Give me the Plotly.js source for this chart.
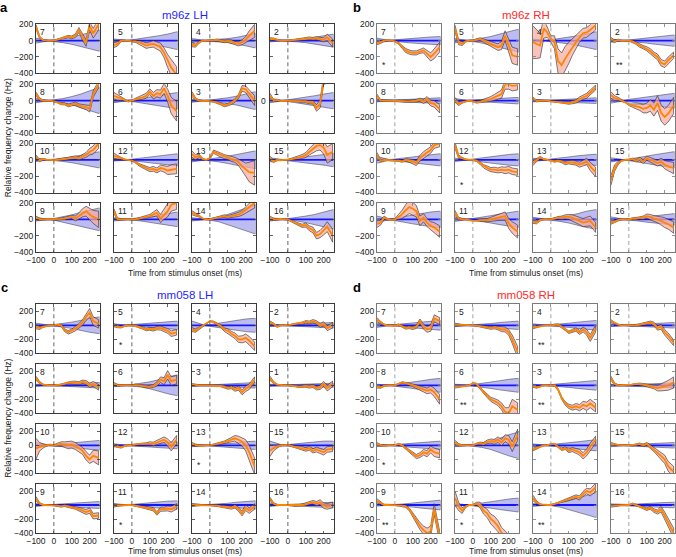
<!DOCTYPE html>
<html><head><meta charset="utf-8">
<script src="https://cdn.plot.ly/plotly-3.0.1.min.js"></script>
<style>html,body{margin:0;padding:0;background:#fff}#chart{width:676px;height:557px}</style>
</head><body><div id="chart"></div>
<script>
// time grid of the orange (real-data) traces, ms
const T = [-100,-80,-60,-40,-20,0,20,40,60,80,100,120,140,160,180,200,220,250];
// time grid of the blue (shuffled) band, ms
const TB = [-100,-60,-30,0,50,100,150,200,255];
const blueMean = [0,0,0,0,0,0,0,0,0];
const subplotNumbers = [7,5,4,2, 8,6,3,1, 10,12,13,15, 9,11,14,16];
const xTicks = [-100,0,100,200];
const yTicks = [-400,-200,0,200];
const panelTitles = ["m96z LH","m96z RH","mm058 LH","mm058 RH"];
const panelLetters = ["a","b","c","d"];

// ---- panel a (m96z LH) ----
const aMean = [
[170,40,5,0,0,0,10,25,40,50,40,60,130,40,-30,180,90,200],
[-55,-40,0,0,0,-10,-10,-20,-40,-60,-50,-40,-60,-80,-150,-250,-330,-420],
[-50,-60,-20,0,0,0,5,10,0,-10,-5,-10,-30,-40,-20,10,60,120],
[20,20,10,0,0,0,5,10,15,20,20,30,25,30,20,10,40,-30],
[80,20,0,0,0,-10,-20,-40,-40,-60,-50,-35,-60,-70,-80,-100,80,200],
[60,40,30,10,-10,0,20,30,40,60,110,60,90,80,150,60,-60,-130],
[80,20,0,-5,0,-5,-10,-20,-40,-60,-50,-30,0,50,150,140,80,0],
[60,0,10,-5,0,0,-5,0,-5,-10,-10,-20,-20,-90,-40,250,260,260],
[40,-10,10,0,0,-5,0,5,10,20,20,30,20,40,60,100,120,200],
[50,30,20,5,0,-10,-30,-60,-80,-100,-120,-110,-130,-100,-110,-130,-120,-110],
[70,30,50,10,0,20,100,80,60,40,30,10,0,-30,-80,-120,-150,-160],
[20,-20,0,-5,0,0,10,20,30,40,60,100,140,170,180,150,60,100],
[20,0,0,0,0,0,0,5,10,20,30,10,40,80,100,60,30,0],
[100,0,0,0,0,-5,0,10,20,30,40,60,80,10,60,100,180,200],
[80,60,40,10,0,0,10,20,30,40,30,40,50,60,80,120,150,200],
[20,0,0,5,0,-5,-20,-40,-60,-80,-70,-110,-130,-200,-180,-140,-90,-200]];
const aSpread = [
[25,15,8,4,3,4,8,10,12,15,18,22,30,35,40,50,60,70],
[30,25,12,5,3,5,10,20,30,35,35,40,45,50,60,80,100,100],
[25,20,10,5,3,4,8,10,12,15,15,18,20,25,30,40,60,80],
[15,12,8,4,3,4,6,8,10,12,12,15,15,18,20,25,40,50],
[25,15,8,4,3,4,8,10,12,15,15,18,20,25,30,40,40,40],
[40,35,25,10,4,4,10,20,25,30,35,40,45,50,60,80,100,120],
[30,15,8,4,3,4,8,10,12,15,15,18,20,25,35,40,50,60],
[30,15,8,4,3,4,8,10,12,15,15,18,20,40,50,50,50,50],
[20,15,8,4,3,4,8,10,12,15,15,18,20,25,30,40,50,60],
[30,20,10,5,3,5,10,15,20,25,25,30,30,35,40,50,60,60],
[40,30,20,8,4,8,20,25,25,25,25,30,30,40,60,80,120,150],
[25,15,8,4,3,4,10,15,20,25,30,40,50,60,60,80,100,100],
[20,15,8,4,3,4,8,10,12,15,20,30,40,50,60,70,80,100],
[30,15,8,4,3,4,8,10,12,15,20,30,40,50,60,70,80,80],
[25,20,12,5,3,4,8,10,12,15,15,18,20,25,30,40,50,60],
[20,12,8,4,3,4,8,10,15,20,25,30,35,40,45,50,60,80]];
const aBlue = [
[30,15,3,10,25,45,70,100,130],[20,10,3,10,25,40,60,80,110],[25,12,3,8,15,25,40,60,90],[15,8,3,6,15,25,40,60,80],
[25,12,3,10,25,50,80,120,160],[25,12,3,10,25,40,60,80,100],[20,10,3,8,20,35,55,80,110],[25,12,3,10,25,40,60,80,100],
[20,10,3,8,20,35,55,75,100],[15,8,3,8,20,35,50,60,75],[25,12,3,10,25,45,65,90,110],[25,12,3,8,20,35,50,65,85],
[20,10,3,10,30,55,85,110,140],[20,10,3,8,20,35,50,70,90],[20,10,3,10,30,60,100,140,180],[20,10,3,8,20,40,60,90,120]];
const aStars = ["","","","", "","","","", "","","","", "","","",""];

// ---- panel b (m96z RH) ----
const bMean = [
[-30,-20,0,10,0,-10,-30,-80,-120,-140,-150,-150,-130,-120,-160,-200,-160,-80],
[150,-20,-40,-10,0,0,10,20,0,-20,-40,-60,-80,-60,60,-60,-180,-200],
[-20,-40,-60,150,100,20,-20,-250,-300,-220,-150,-80,-20,40,90,100,130,190],
[20,-10,10,0,0,0,-10,-30,-60,-80,-100,-130,-170,-200,-270,-290,-240,-180],
[60,0,0,0,0,0,0,-5,-10,-10,-5,0,10,-10,20,-30,-40,-100],
[10,-40,-20,-10,0,-10,-20,-15,-5,10,20,40,60,80,200,200,180,190],
[30,-5,0,0,0,-10,-15,-20,-20,-25,-30,-20,-10,20,40,60,100,160],
[70,30,20,0,-20,-50,-60,-70,-80,-100,-90,-60,-110,-30,-150,-200,-160,-60],
[60,-10,0,0,-5,-10,-10,-20,0,-10,-20,-40,20,60,90,120,180,200],
[180,40,20,5,0,0,-10,-40,-80,-100,-120,-120,-130,-120,-130,-120,-140,-150],
[-40,0,30,10,0,-10,-20,-10,-20,-40,-30,-30,-40,-60,-40,-20,-80,-150],
[-250,-100,-40,-10,0,0,10,-10,10,-20,20,0,-20,-40,-20,-60,-80,-100],
[-60,-40,20,0,-10,0,30,60,110,150,130,100,-20,20,-40,-80,-100,-150],
[80,10,0,0,-10,-20,-20,-10,-10,-10,0,10,20,30,40,-50,-100,-150],
[-30,-40,-10,0,0,0,10,20,20,30,30,20,0,-20,-40,-30,-20,-100],
[-40,-30,-10,0,0,0,10,10,20,20,40,30,10,0,-20,-40,-60,-100]];
const bSpread = [
[20,15,8,4,3,6,12,20,25,25,25,25,25,30,40,50,60,60],
[40,30,20,8,4,6,12,15,20,25,30,35,40,50,60,80,100,100],
[200,180,150,120,60,40,80,150,150,150,130,100,80,60,60,60,60,60],
[20,15,8,4,3,5,10,15,20,20,25,30,30,35,40,40,40,40],
[20,12,8,4,3,4,8,10,12,12,15,15,20,25,30,35,40,50],
[30,20,12,5,3,5,10,15,20,25,30,35,40,50,60,60,60,60],
[15,10,6,4,3,4,6,8,10,12,15,18,20,25,25,30,30,30],
[40,30,20,10,5,10,20,30,40,50,60,70,80,90,100,100,100,100],
[30,15,8,4,3,4,8,10,15,20,25,30,35,40,40,40,40,40],
[40,20,10,5,3,4,8,15,20,25,25,30,30,35,40,40,40,40],
[30,20,12,5,3,4,8,12,15,20,20,25,25,30,35,40,50,60],
[60,40,20,8,4,5,10,15,20,25,25,30,30,35,40,50,60,70],
[40,30,20,10,5,10,30,50,70,80,80,70,60,50,50,50,60,70],
[30,15,8,4,3,4,8,12,15,20,25,30,35,40,50,60,70,80],
[20,15,10,5,3,5,10,15,20,25,30,35,40,45,50,55,60,60],
[20,15,10,5,3,4,8,12,15,20,25,30,35,40,50,60,60,70]];
const bBlue = [
[30,15,3,10,20,30,40,45,50],[25,12,3,10,30,50,80,110,140],[20,12,3,10,25,40,60,80,110],[20,10,3,8,20,30,45,60,70],
[15,8,3,6,12,18,25,30,35],[25,12,3,8,15,20,25,30,40],[15,8,3,6,12,18,25,30,35],[30,15,3,15,30,45,60,80,90],
[40,20,3,10,20,35,50,60,75],[20,10,3,10,25,40,55,65,75],[20,10,3,10,20,35,50,60,70],[25,12,3,10,25,45,65,85,100],
[40,20,3,15,35,55,75,90,100],[25,12,3,10,25,45,65,85,100],[25,12,3,10,25,45,70,100,120],[30,15,3,8,20,35,50,60,70]];
const bStars = ["*","","","**", "","","","", "","*","","", "","","",""];

// ---- panel c (mm058 LH) ----
const cMean = [
[-20,-40,-20,-10,0,0,10,0,-70,-100,-80,-50,-10,40,120,180,60,20],
[0,-20,-30,-10,0,0,-10,-20,-40,-60,-50,-60,-40,-40,-60,-80,-120,-100],
[-60,-80,-40,-10,20,60,50,20,-10,-60,-80,-120,-150,-200,-200,-180,-220,-300],
[40,20,-20,0,0,0,10,20,30,30,50,40,60,40,0,20,-40,0],
[100,40,10,0,0,0,0,10,20,40,40,40,30,50,40,0,20,-30],
[20,0,0,0,0,0,10,0,-10,-20,-20,-10,20,80,60,150,60,80],
[10,0,0,0,0,0,0,0,-10,-20,-40,-30,-60,-40,-100,-50,-20,80],
[100,40,10,0,0,0,-10,-10,-20,-20,-10,-20,-10,-40,-30,20,-40,20],
[-50,-20,-10,0,10,0,10,20,10,0,10,-10,-40,-80,-150,-200,-150,-180],
[0,-20,-30,-10,0,0,10,20,20,20,30,20,40,60,80,40,-20,80],
[20,0,0,-10,0,0,10,20,30,40,60,80,100,80,50,0,-100,-300],
[-80,-40,-20,0,0,10,-10,-20,-30,-40,-60,-40,-80,-60,-80,-100,-60,-50],
[90,20,0,0,0,0,-10,-20,-10,-20,-30,-40,-60,-80,-100,-80,-160,-150],
[-10,-5,-5,0,0,0,-10,-20,-30,-40,-50,-60,-120,-60,-60,-50,-60,-20],
[0,0,0,0,0,0,-10,-10,-20,-20,-30,-40,-20,-60,-120,-40,-80,-20],
[80,20,0,0,0,0,-5,-10,-10,0,10,30,40,20,40,-10,-20,0]];
const cSpread = [
[30,20,10,5,3,5,10,15,20,25,25,30,35,40,50,60,60,60],
[20,15,8,4,3,4,8,12,15,18,20,22,25,28,30,35,40,40],
[30,20,10,5,3,5,10,15,20,25,30,35,40,45,50,55,60,60],
[20,12,8,4,3,4,8,10,12,15,18,20,22,25,28,30,35,40],
[30,15,8,4,3,4,8,10,12,15,18,20,22,25,28,30,35,40],
[20,12,8,4,3,4,8,10,12,15,18,20,30,40,50,60,60,60],
[15,10,6,4,3,4,6,8,10,12,15,20,25,30,35,40,40,40],
[30,15,8,4,3,4,8,10,12,15,18,20,22,25,30,35,40,40],
[150,60,30,10,5,8,20,30,40,50,50,50,50,50,60,60,80,100],
[20,15,10,5,3,4,8,10,12,15,20,25,30,35,40,50,60,60],
[20,15,8,4,3,4,8,10,15,20,25,30,40,50,60,80,100,120],
[80,40,20,8,4,5,10,15,20,25,25,30,30,35,35,40,40,40],
[30,15,8,4,3,4,8,10,12,15,18,20,25,30,35,40,40,40],
[20,12,8,4,3,4,8,10,15,20,20,25,25,30,30,35,40,40],
[15,10,6,4,3,4,6,10,12,15,18,20,25,30,35,40,40,40],
[30,15,8,4,3,4,8,10,12,15,18,20,25,30,35,40,40,40]];
const cBlue = [
[30,15,3,10,25,45,70,100,120],[20,10,3,10,20,30,40,50,60],[60,30,3,10,30,50,70,90,100],[20,10,3,8,15,20,25,30,40],
[15,8,3,6,12,18,25,35,40],[20,10,3,10,25,50,80,120,150],[15,8,3,6,12,18,25,30,40],[15,8,3,6,12,18,22,28,30],
[40,20,3,10,20,35,50,60,70],[20,10,3,8,15,25,35,40,50],[20,10,3,8,15,25,35,50,60],[60,30,3,10,20,35,50,60,60],
[20,10,3,8,15,25,35,45,50],[20,10,3,8,20,35,45,55,60],[20,10,3,8,15,25,40,50,60],[20,10,3,8,15,25,30,35,40]];
const cStars = ["","*","","", "","","","", "","","*","", "","*","",""];

// ---- panel d (mm058 RH) ----
const dMean = [
[80,40,10,0,0,-10,10,-20,-40,-30,-40,-20,60,-20,-60,-40,100,60],
[10,10,0,0,0,0,-5,-10,-20,-30,-40,-30,-40,-60,-60,-100,-200,-380],
[-30,-20,-10,0,0,0,10,10,-20,-60,-100,-80,-60,-100,-60,-100,-180,-50],
[60,30,10,0,0,-5,-10,0,10,20,30,40,20,-40,-20,-100,-150,-250],
[-20,-30,-10,0,0,0,20,40,30,20,0,-20,-40,-60,-80,-60,-100,-200],
[-20,-20,-20,-10,0,30,20,-40,-100,-150,-200,-220,-250,-300,-380,-400,-300,-350],
[-10,-30,-20,0,0,-10,0,-60,-180,-260,-300,-320,-300,-320,-280,-300,-260,-320],
[100,20,0,0,0,0,10,20,20,10,0,-10,-20,-40,-30,-20,0,40],
[20,0,-10,0,0,0,20,0,-40,-80,-120,-160,-140,-100,-120,-60,-100,-120],
[40,10,0,0,0,0,20,30,20,50,60,50,80,40,100,80,-20,150],
[-60,-40,-20,0,0,20,20,-20,-60,-40,-80,-60,-80,-100,-150,-100,-20,80],
[20,10,0,0,0,0,0,10,20,0,20,-20,-60,-100,-150,-200,-300,-380],
[60,30,0,0,0,0,-5,-10,-20,-60,-140,-220,-300,-360,-400,-380,-60,-450],
[100,-20,-80,-20,0,0,20,0,-80,-120,-200,-240,-300,-400,-450,-500,-500,-500],
[100,40,10,0,0,0,10,30,50,70,80,100,120,100,160,200,180,250],
[-10,-10,-10,0,0,0,20,0,-20,-40,-60,-40,-80,-100,-60,-150,-250,-400]];
const dSpread = [
[30,15,8,4,3,4,8,12,15,18,20,25,30,35,40,45,50,50],
[20,12,8,4,3,4,8,10,12,15,18,20,25,30,35,40,60,80],
[20,12,8,4,3,4,8,10,12,15,18,20,25,30,35,40,50,50],
[20,12,8,4,3,4,8,10,12,15,18,20,25,30,35,40,40,40],
[20,12,8,4,3,4,8,10,12,15,18,25,30,35,40,50,60,70],
[20,12,8,4,3,6,10,15,20,25,30,35,40,50,60,80,100,100],
[20,12,8,4,3,4,10,15,20,25,30,35,40,45,50,60,60,60],
[30,15,8,4,3,4,8,10,12,15,20,25,30,40,50,60,70,80],
[20,12,8,4,3,4,8,10,15,20,25,30,35,40,45,50,60,60],
[30,15,8,4,3,4,10,15,20,25,30,35,40,45,50,60,70,80],
[20,15,8,4,3,4,8,12,15,20,25,30,35,40,45,50,50,50],
[20,12,8,4,3,4,8,10,12,15,20,25,30,40,50,60,70,80],
[30,15,8,4,3,4,8,10,15,20,30,40,50,60,70,80,80,80],
[100,60,40,15,5,8,20,40,50,60,70,80,80,80,80,80,80,80],
[40,20,8,4,3,4,8,10,12,15,18,20,25,30,35,40,50,60],
[20,12,8,4,3,4,8,10,12,15,18,20,25,30,40,50,60,70]];
const dBlue = [
[30,15,3,10,20,35,50,60,70],[20,10,3,8,15,25,40,50,60],[20,10,3,8,15,30,45,60,70],[20,10,3,8,15,20,30,35,40],
[15,8,3,10,25,45,65,85,100],[15,8,3,10,25,45,65,85,100],[15,8,3,10,20,30,45,60,70],[15,8,3,6,12,18,25,30,35],
[15,8,3,10,20,30,40,55,60],[20,10,3,10,30,60,100,150,190],[20,10,3,10,20,35,50,65,80],[20,10,3,8,15,25,30,35,40],
[15,8,3,8,15,30,45,60,70],[20,10,3,10,25,45,65,85,100],[20,10,3,10,30,60,100,140,180],[15,8,3,8,15,25,30,35,40]];
const dStars = ["","","**","", "","**","**","", "*","","","", "**","*","**",""];

const W = 676, H = 557;
const FONT = "Liberation Sans, Arial, Helvetica, sans-serif";
const panels = [
  {mean:aMean, spread:aSpread, blue:aBlue, stars:aStars, lefts:[36,114,192,270], w:63.5, tops:[24.3,84.3,143.5,203], yr:[-400,200], frame:"#3a3a3a", dash:"#555", tcol:"#1f1fff", xtOff:21},
  {mean:bMean, spread:bSpread, blue:bBlue, stars:bStars, lefts:[377,455,533,611], w:63.5, tops:[24.3,84.3,143.5,203], yr:[-400,200], frame:"#7a7a7a", dash:"#999", tcol:"#ff2a2a", xtOff:21},
  {mean:cMean, spread:cSpread, blue:cBlue, stars:cStars, lefts:[36,114,192,270], w:63.5, tops:[304.3,364.3,424.3,484], yr:[-400,300], frame:"#3a3a3a", dash:"#555", tcol:"#1f1fff", xtOff:18},
  {mean:dMean, spread:dSpread, blue:dBlue, stars:dStars, lefts:[377,455,533,611], w:63.5, tops:[304.3,364.3,424.3,484], yr:[-400,300], frame:"#7a7a7a", dash:"#999", tcol:"#ff2a2a", xtOff:18}
];
const HGT = 49;

const data = [], shapes = [], annotations = [];
const layout = {
  width: W, height: H, margin:{l:0,r:0,t:0,b:0}, showlegend:false,
  paper_bgcolor:"#fff", plot_bgcolor:"#fff",
  font:{family:FONT, size:8, color:"#222"}
};
const px = x => x / W, py = y => 1 - y / H;

panels.forEach((P, pi) => {
  for (let i = 0; i < 16; i++) {
    const row = Math.floor(i/4), col = i % 4;
    const k = pi*16 + i + 1;
    const s = k === 1 ? "" : String(k);
    const left = P.lefts[col], top = P.tops[row];
    layout["xaxis"+s] = {
      domain:[px(left), px(left+P.w)], anchor:"y"+s, range:[-100,255],
      tickvals:xTicks, showticklabels: row === 3, ticks:"inside", ticklen:2.5, tickwidth:0.8,
      tickcolor:P.frame, showline:true, mirror:"ticks", linecolor:P.frame, linewidth:1,
      showgrid:false, zeroline:false, tickfont:{size:8.5, family:FONT, color:"#222"}, fixedrange:true
    };
    layout["yaxis"+s] = {
      domain:[py(top+HGT), py(top)], anchor:"x"+s, range:P.yr,
      tickvals:yTicks, showticklabels: col === 0, ticks:"inside", ticklen:2.5, tickwidth:0.8,
      tickcolor:P.frame, showline:true, mirror:"ticks", linecolor:P.frame, linewidth:1,
      showgrid:false, zeroline:false, tickfont:{size:8.5, family:FONT, color:"#222"}, fixedrange:true
    };
    const xa = "x"+s, ya = "y"+s;
    const bw = P.blue[i];
    // blue band (shuffled distribution)
    data.push({x:TB.concat(TB.slice().reverse()),
      y:blueMean.map((m,j)=>m+bw[j]).concat(blueMean.map((m,j)=>m-bw[j]).reverse()),
      xaxis:xa, yaxis:ya, type:"scatter", mode:"lines", fill:"toself",
      fillcolor:"#bcbcf2", line:{color:"#4a4a5a", width:0.6}, hoverinfo:"skip"});
    data.push({x:TB, y:blueMean, xaxis:xa, yaxis:ya, type:"scatter", mode:"lines",
      line:{color:"#1414ff", width:1.8}, hoverinfo:"skip"});
    // orange band and mean
    const m = P.mean[i], sp = P.spread[i];
    data.push({x:T.concat(T.slice().reverse()),
      y:m.map((v,j)=>v+sp[j]).concat(m.map((v,j)=>v-sp[j]).reverse()),
      xaxis:xa, yaxis:ya, type:"scatter", mode:"lines", fill:"toself",
      fillcolor:"rgba(247,170,160,0.72)", line:{color:"#2a2a2a", width:0.6}, hoverinfo:"skip"});
    data.push({x:T, y:m, xaxis:xa, yaxis:ya, type:"scatter", mode:"lines",
      line:{color:"#ff8400", width:1.8}, hoverinfo:"skip"});
    // dashed stimulus onset line
    shapes.push({type:"line", xref:xa, yref:ya+" domain", x0:0, x1:0, y0:0, y1:1,
      line:{color:P.dash, width:0.9, dash:"4px,3px"}, layer:"above"});
    // subplot number
    annotations.push({xref:xa+" domain", yref:ya+" domain", x:0.03, y:0.98, xanchor:"left", yanchor:"top",
      text:String(subplotNumbers[i]), showarrow:false, font:{size:8.5, family:FONT, color:"#222"}});
    if (P.stars[i]) {
      annotations.push({xref:xa+" domain", yref:ya+" domain", x:0.05, y:0.02, xanchor:"left", yanchor:"bottom",
        text:P.stars[i], showarrow:false, font:{size:8.5, family:FONT, color:"#222"}});
    }
  }
  const cx = (P.lefts[0] + P.lefts[3] + P.w) / 2;
  const top0 = P.tops[0], bot = P.tops[3] + HGT;
  annotations.push({xref:"paper", yref:"paper", x:px(cx), y:py(top0-9), xanchor:"center", yanchor:"middle",
    text:panelTitles[pi], showarrow:false, font:{size:11.5, family:FONT, color:P.tcol}});
  annotations.push({xref:"paper", yref:"paper", x:px(cx), y:py(bot+P.xtOff), xanchor:"center", yanchor:"middle",
    text:"Time from stimulus onset (ms)", showarrow:false, font:{size:8.5, family:FONT, color:"#222"}});
  const lx = pi % 2 === 0 ? 4 : 357;
  annotations.push({xref:"paper", yref:"paper", x:px(lx), y:py(top0-17), xanchor:"center", yanchor:"middle",
    text:"<b>"+panelLetters[pi]+"</b>", showarrow:false, font:{size:13, family:FONT, color:"#000"}});
  if (pi % 2 === 0) {
    annotations.push({xref:"paper", yref:"paper", x:px(8), y:py((top0+bot)/2), xanchor:"center", yanchor:"middle",
      text:"Relative frequency change (Hz)", textangle:-90, showarrow:false, font:{size:8.5, family:FONT, color:"#222"}});
  }
});
// stray zero label next to panel a, subplot 1
annotations.push({xref:"paper", yref:"paper", x:px(263), y:py(101), xanchor:"center", yanchor:"middle",
  text:"0", showarrow:false, font:{size:8.5, family:FONT, color:"#222"}});

layout.shapes = shapes;
layout.annotations = annotations;
Plotly.newPlot("chart", data, layout, {staticPlot:true, displayModeBar:false});
</script></body></html>
